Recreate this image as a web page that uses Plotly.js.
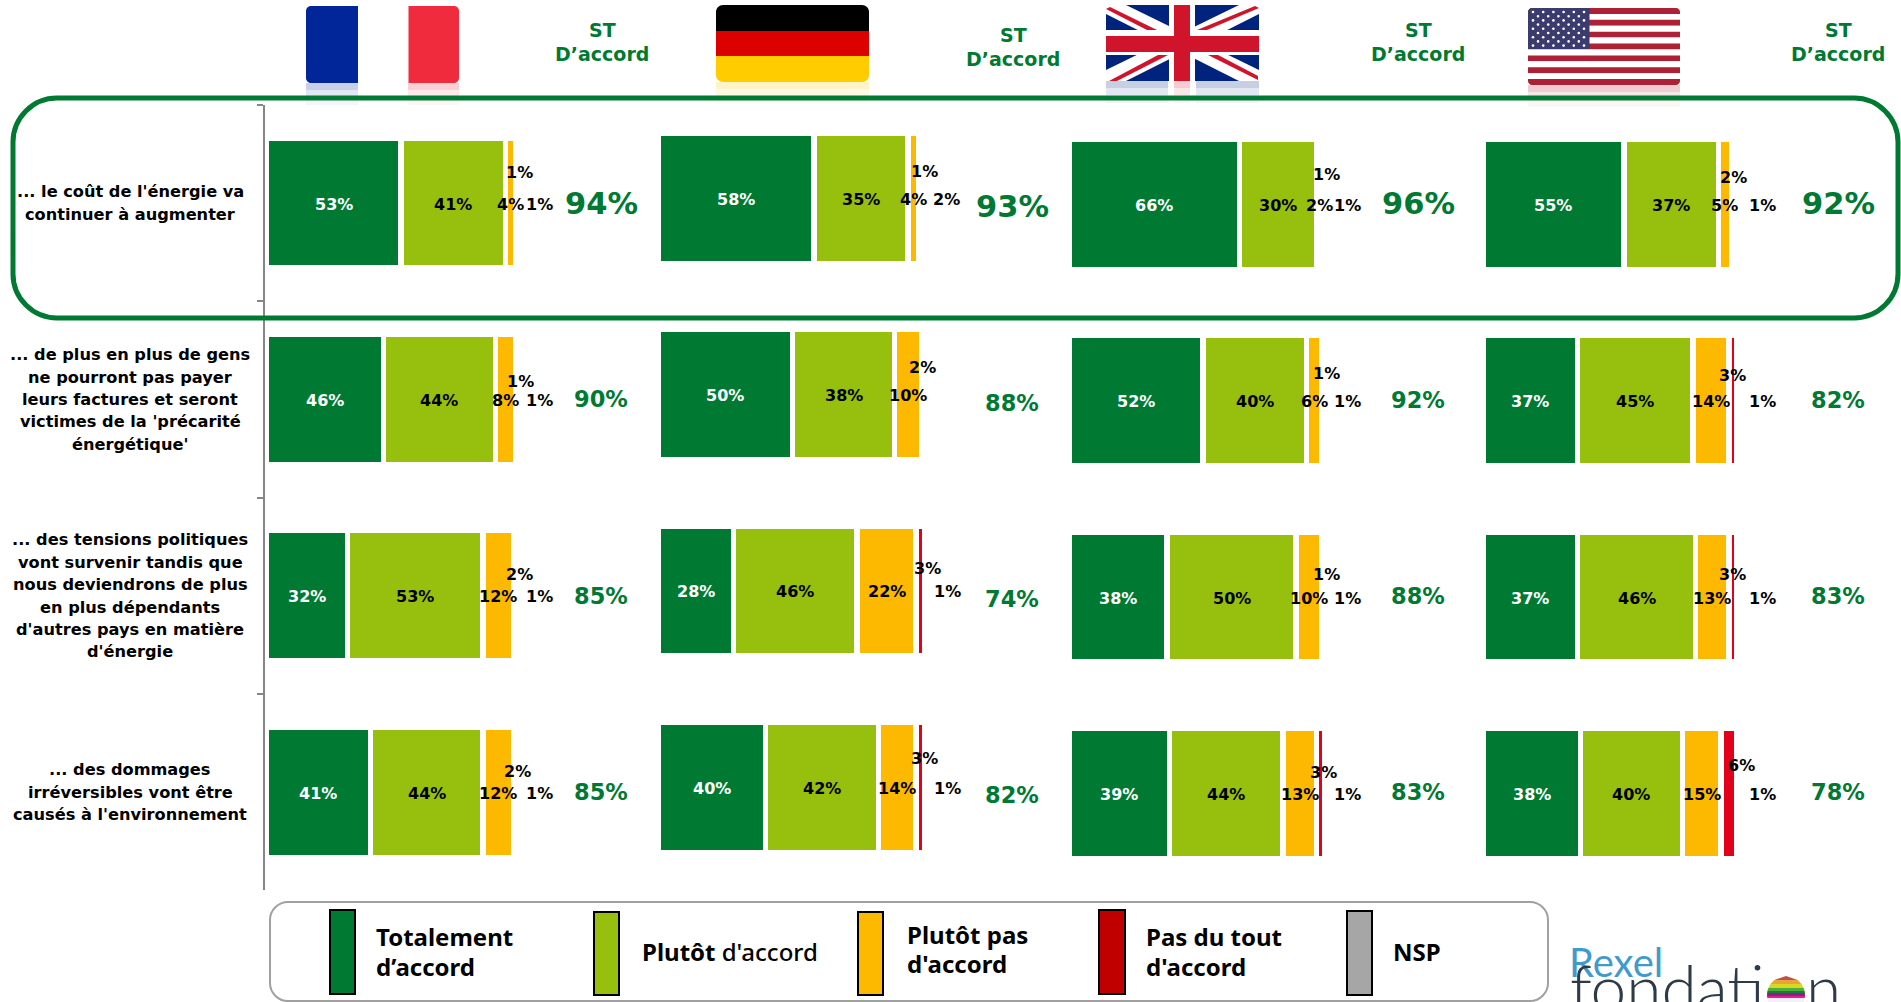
<!DOCTYPE html>
<html><head><meta charset="utf-8">
<script src="https://cdn.plot.ly/plotly-3.0.1.min.js"></script>
<style>html,body{margin:0;padding:0;background:#fff;overflow:hidden}#c{width:1901px;height:1002px}</style>
</head><body><div id="c"></div>
<script>
// ---------- data ----------
const statements = [
  "... le coût de l'énergie va<br>continuer à augmenter",
  "... de plus en plus de gens<br>ne pourront pas payer<br>leurs factures et seront<br>victimes de la 'précarité<br>énergétique'",
  "... des tensions politiques<br>vont survenir tandis que<br>nous deviendrons de plus<br>en plus dépendants<br>d'autres pays en matière<br>d'énergie",
  "... des dommages<br>irréversibles vont être<br>causés à l'environnement"
];
const seriesNames = ["Totalement d'accord","Plutôt d'accord","Plutôt pas d'accord","Pas du tout d'accord","NSP"];
const france  = [[53,41,4,1,1],[46,44,8,1,1],[32,53,12,2,1],[41,44,12,2,1]];
const germany = [[58,35,4,1,2],[50,38,10,2,0],[28,46,22,3,1],[40,42,14,3,1]];
const uk      = [[66,30,2,1,1],[52,40,6,1,1],[38,50,10,1,1],[39,44,13,3,1]];
const usa     = [[55,37,5,2,1],[37,45,14,3,1],[37,46,13,3,1],[38,40,15,6,1]];
const stFrance  = [94,90,85,85];
const stGermany = [93,88,74,82];
const stUk      = [96,92,88,83];
const stUsa     = [92,82,83,78];

// ---------- style / layout ----------
const W=1901,H=1002;
const GREEN='#007A33',LIME='#97BF0D',ORANGE='#FDB900',RED='#E2001A',GREY='#A6A6A6',DKRED='#C00000';
const barColors=[GREEN,LIME,ORANGE,RED,GREY];
const FONT='"DejaVu Sans", Verdana, sans-serif';
const px=x=>x/W, py=y=>1-y/H;
const pitch=196.4, topBase=104.8;
const panels=[
 {data:france, st:stFrance, zero:266,  s:2.55, dy:0,   stX:601,  stDy:0, nspDx:20, headX:602, headY:30, rise:[-31,-18,-21,-21], redDx:[2,3,4,2]},
 {data:germany,st:stGermany,zero:658,  s:2.69, dy:-4.85,stX:1012,stDy:8, nspDx:22, headX:1013,headY:35, rise:[-27,-27,-22,-29], redDx:[4,-2,7,4]},
 {data:uk,     st:stUk,     zero:1069, s:2.58, dy:1.2, stX:1418, stDy:-1,nspDx:22, headX:1418,headY:30, rise:[-30,-27,-23,-21], redDx:[3,3,3,3]},
 {data:usa,    st:stUsa,    zero:1483, s:2.56, dy:1.2, stX:1838, stDy:-1,nspDx:25, headX:1838,headY:30, rise:[-27,-25,-23,-28], redDx:[0,0,0,13]}
];

const traces=[],annotations=[],shapes=[];
const layout={width:W,height:H,margin:{l:0,r:0,t:0,b:0},paper_bgcolor:'#fff',plot_bgcolor:'rgba(0,0,0,0)',
  barmode:'stack',bargap:0.336,showlegend:false,font:{family:FONT},annotations,shapes};

function note(x,y,text,size,color,o){
  annotations.push(Object.assign({xref:'paper',yref:'paper',x:px(x),y:py(y),text,showarrow:false,borderpad:0,borderwidth:0,
    xanchor:'center',yanchor:'middle',font:{family:FONT,size,color,weight:700}},o||{}));
}

panels.forEach((p,i)=>{
  const n=i+1, xa=n===1?'x':'x'+n, ya=n===1?'y':'y'+n;
  const domL=p.zero-1.5, domR=p.zero+272;
  layout['xaxis'+(n===1?'':n)]={domain:[px(domL),px(domR)],range:[-1.5/p.s,272/p.s],visible:false,fixedrange:true,anchor:ya};
  const top=topBase+p.dy, bot=top+pitch*4;
  const yax={domain:[py(bot),py(top)],type:'category',categoryorder:'array',categoryarray:statements,range:[3.5,-0.5],anchor:xa,fixedrange:true,showgrid:false,zeroline:false,showticklabels:false};
  if(n===1) Object.assign(yax,{showline:true,linecolor:'#868686',linewidth:2,ticks:'outside',ticklen:6,tickcolor:'#868686',tickwidth:2,tickson:'boundaries'});
  else yax.visible=false;
  layout['yaxis'+(n===1?'':n)]=yax;

  seriesNames.forEach((nm,k)=>{
    traces.push({type:'bar',orientation:'h',name:nm,xaxis:xa,yaxis:ya,y:statements,x:p.data.map(r=>r[k]),
      marker:{color:barColors[k],line:{color:'#fff',width:5.5}},hoverinfo:'skip'});
  });
  // segment labels placed through the axes
  p.data.forEach((row,r)=>{
    let c=0;
    row.forEach((v,k)=>{
      const mid=c+v/2; c+=v;
      if(!v) return;
      const a={xref:xa,yref:ya,x:mid,y:statements[r],yshift:-1,text:v+'%',showarrow:false,borderpad:0,borderwidth:0,xanchor:'center',
        font:{family:FONT,size:16,weight:700,color:k===0?'#fff':'#000'}};
      if(k===3){a.yshift=-p.rise[r];a.xshift=p.redDx[r];}
      if(k===4){a.xshift=p.nspDx;}
      annotations.push(a);
    });
    // ST d'accord
    annotations.push({xref:'paper',yref:ya,x:px(p.stX),y:statements[r],yshift:-p.stDy,text:p.st[r]+'%',showarrow:false,borderpad:0,borderwidth:0,xanchor:'center',
      font:{family:FONT,size:r===0?30.5:22.5,weight:700,color:GREEN}});
  });
  note(p.headX,p.headY,"ST",19,GREEN);
  note(p.headX,p.headY+24,"D’accord",19,GREEN);
});

// statement labels, centred on the first panel's rows, one line at a time
statements.forEach(s=>{
  const lines=s.split('<br>');
  lines.forEach((ln,i)=>{
    annotations.push({xref:'paper',yref:'y',x:px(130),y:s,yshift:((lines.length-1)/2-i)*22.4,text:ln,showarrow:false,borderpad:0,borderwidth:0,xanchor:'center',
      font:{family:FONT,size:16.2,weight:700,color:'#000'}});
  });
});

// ---------- drawn decoration ----------
function rr(x0,y0,x1,y1,r){ // rounded rect path in pixels, r=[tl,tr,br,bl]
  const [a,b,c,d]=r, P=(x,y)=>px(x)+','+py(y);
  const k=0.45;
  return 'M'+P(x0+a,y0)+' L'+P(x1-b,y0)+' C'+P(x1-b*k,y0)+' '+P(x1,y0+b*k)+' '+P(x1,y0+b)+
   ' L'+P(x1,y1-c)+' C'+P(x1,y1-c*k)+' '+P(x1-c*k,y1)+' '+P(x1-c,y1)+
   ' L'+P(x0+d,y1)+' C'+P(x0+d*k,y1)+' '+P(x0,y1-d*k)+' '+P(x0,y1-d)+
   ' L'+P(x0,y0+a)+' C'+P(x0,y0+a*k)+' '+P(x0+a*k,y0)+' '+P(x0+a,y0)+' Z';
}
function poly(pts){return 'M'+pts.map(q=>px(q[0])+','+py(q[1])).join(' L')+' Z';}
function fill(path,color,op){shapes.push({type:'path',xref:'paper',yref:'paper',path,fillcolor:color,opacity:op==null?1:op,line:{width:0},layer:'above'});}
function rect(x0,y0,x1,y1,color,op){fill(rr(x0,y0,x1,y1,[0,0,0,0]),color,op);}
function reflect(x0,x1,y,color){[[0,7,.22],[7,14,.11],[14,22,.04]].forEach(a=>rect(x0,y+a[0],x1,y+a[1],color,a[2]));}

// France
reflect(306,358,83,'#00269A');reflect(408,459,83,'#EF2B3D');
fill(rr(306,6,358,83,[5,0,0,5]),'#00269A');fill(rr(408.5,6,459,83,[0,5,5,0]),'#EF2B3D');
// Germany
reflect(716,869,82,'#FFCC00');
fill(rr(716,5,869,31,[7,7,0,0]),'#000');rect(716,31,869,56,'#DD0000');fill(rr(716,56,869,82,[0,0,7,7]),'#FFCC00');
// UK
reflect(1106,1168,81,'#00247D');reflect(1196,1259,81,'#00247D');reflect(1174,1190,81,'#CF142B');
rect(1106,5,1259,81,'#00247D');
fill(poly([[1106,5],[1126,5],[1259,70],[1259,81],[1239,81],[1106,14]]),'#fff');
fill(poly([[1259,5],[1239,5],[1106,70],[1106,81],[1126,81],[1259,14]]),'#fff');
rect(1106,30,1259,55,'#fff');rect(1169,5,1195,81,'#fff');
fill(poly([[1106,9],[1110,7],[1157,30],[1147,30]]),'#CF142B');
fill(poly([[1255,6],[1259,8],[1207,30],[1197,30]]),'#CF142B');
fill(poly([[1109,81],[1158,55],[1168,55],[1117,81]]),'#CF142B');
fill(poly([[1208,55],[1218,55],[1258,76],[1258,80]]),'#CF142B');
rect(1106,36,1259,52,'#CF142B');rect(1174,5,1190,81,'#CF142B');
// USA
reflect(1528,1680,85,'#B22234');
const sh=77/13;
for(let t=0;t<13;t++){
  const y0=8+t*sh, c=t%2?'#fff':'#AE2035';
  if(t===0) fill(rr(1528,y0,1680,y0+sh,[4,4,0,0]),c);
  else if(t===12) fill(rr(1528,y0,1680,y0+sh,[0,0,4,4]),c);
  else rect(1528,y0,1680,y0+sh,c);
}
fill(rr(1528,8,1589.5,49,[4,0,0,0]),'#3C3B6E');
for(let r=0;r<9;r++){const cnt=r%2?5:6,x0=r%2?1538:1533,dx=10.2;
  for(let q=0;q<cnt;q++){const x=x0+q*dx,y=12+r*4.2;
    shapes.push({type:'circle',xref:'paper',yref:'paper',x0:px(x-1.3),x1:px(x+1.3),y0:py(y+1.3),y1:py(y-1.3),fillcolor:'#fff',line:{width:0},layer:'above'});}
}
// highlight frame around the first row
shapes.push({type:'path',xref:'paper',yref:'paper',path:rr(13,98,1898,318,[44,44,44,44]),line:{color:GREEN,width:5},fillcolor:'rgba(0,0,0,0)',layer:'above'});
// legend frame and swatches
shapes.push({type:'path',xref:'paper',yref:'paper',path:rr(270,902,1548,1001,[18,18,18,18]),line:{color:'#A0A0A0',width:2},fillcolor:'rgba(0,0,0,0)',layer:'above'});
[[330,355,910,994,GREEN],[594,619,912,995,LIME],[858,883,912,995,ORANGE],[1099,1125,910,994,DKRED],[1347,1372,911,995,GREY]].forEach(a=>{
  shapes.push({type:'rect',xref:'paper',yref:'paper',x0:px(a[0]),x1:px(a[1]),y0:py(a[3]),y1:py(a[2]),fillcolor:a[4],line:{color:'#000',width:2},layer:'above'});
});
const LF={xanchor:'left'};
note(376,936,"Totalement",24,'#000',LF);note(376,966,"d’accord",24,'#000',LF);
note(642,951,"Plutôt <span style='font-weight:500'>d'accord</span>",24,'#000',LF);
note(907,934,"Plutôt pas",24,'#000',LF);note(907,963,"d'accord",24,'#000',LF);
note(1146,936,"Pas du tout",24,'#000',LF);note(1146,966,"d'accord",24,'#000',LF);
note(1393,951,"NSP",24,'#000',LF);
annotations.slice(-8).forEach(a=>{a.font.family='"Noto Sans", sans-serif';});

// foundation logo
const LOGO='Lato, "Open Sans", sans-serif';
note(1569,962,"Rexel",40,'#3F9BCB',{xanchor:'left',font:{family:LOGO,size:40,color:'#3F9BCB',weight:400}});
note(1570,986,"fondati",64,'#2F3A48',{xanchor:'left',font:{family:LOGO,size:64,color:'#2F3A48',weight:300}});
note(1806,986,"n",64,'#2F3A48',{xanchor:'left',font:{family:LOGO,size:64,color:'#2F3A48',weight:300}});
const cx=1786,cy=995,R=19;
[[976,980,'#C0504D'],[980,984,'#E8A33D'],[984,988,'#D8D820'],[988,991,'#4CAF3C'],[991,993,'#1E7A3C'],[993,996,'#8E1E8E'],[996,998,'#E02090'],[998,1002,'#F4F0F6']].forEach(b=>{
  const w=y=>Math.sqrt(Math.max(0,R*R-(y-cy)*(y-cy)));
  fill(poly([[cx-w(b[0]),b[0]],[cx+w(b[0]),b[0]],[cx+w(b[1]),b[1]],[cx-w(b[1]),b[1]]]),b[2]);
});

Plotly.newPlot('c',traces,layout,{staticPlot:true,displayModeBar:false});
</script></body></html>
